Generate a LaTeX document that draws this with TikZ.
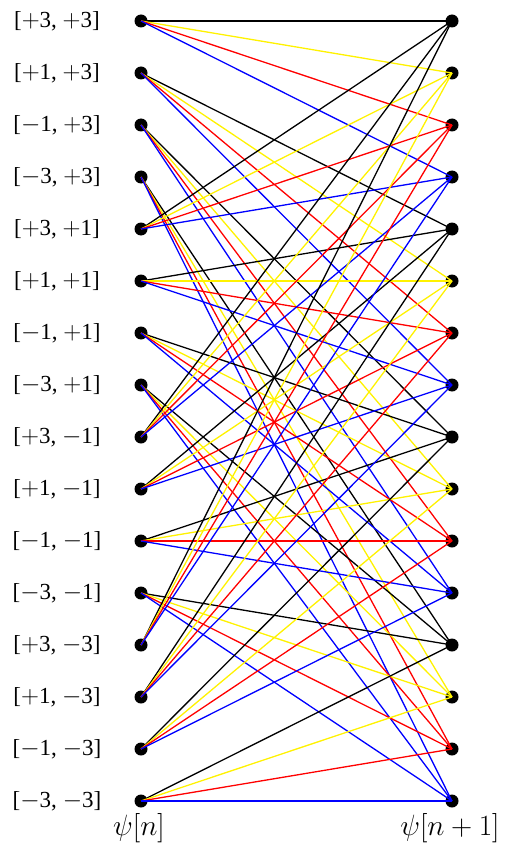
\documentclass[tikz,border=0pt]{standalone}
\usepackage{fontspec}
\usepackage{graphicx}
\setmainfont{Liberation Serif}
\newcommand\symv[1]{\ifcase#1 $+$3\or $+$1\or $-$1\or $-$3\fi}
\newcommand\biglabtext[1]{\scalebox{1.18}{$#1$}}
\begin{document}
\begin{tikzpicture}[x=1pt,y=-1pt]
\tikzset{
  dot/.style={circle,fill=black,inner sep=0pt,minimum size=13pt},
  lab/.style={font=\fontsize{23}{23}\selectfont},
  biglab/.style={font=\fontsize{24.88}{24.88}\selectfont,anchor=base},
  edge/.style={line width=1.3pt}
}
\useasboundingbox (0,0) rectangle (516,845);
\foreach \i in {0,...,15} {
  \pgfmathtruncatemacro\a{mod(\i,4)}
  \pgfmathtruncatemacro\b{div(\i,4)}
  \node[dot] (L\i) at (141,{21+52*\i}) {};
  \node[dot] (R\i) at (452,{21+52*\i}) {};
  \node[lab] (T\i) at (57,{21+52*\i}) {[\symv{\a}, \symv{\b}]};
}
\foreach \i in {0,...,15} {
  \pgfmathtruncatemacro\a{mod(\i,4)}
  \foreach \c/\col in {0/black,1/yellow,2/red,3/blue} {
    \pgfmathtruncatemacro\j{4*\a+\c}
    \draw[edge,\col] (L\i.center) -- (R\j.center);
  }
}
\node[biglab] (Bn) at (139,835) {\biglabtext{\psi[n]}};
\node[biglab] (Bn1) at (450,835) {\biglabtext{\psi[n+1]}};
\end{tikzpicture}
\end{document}
